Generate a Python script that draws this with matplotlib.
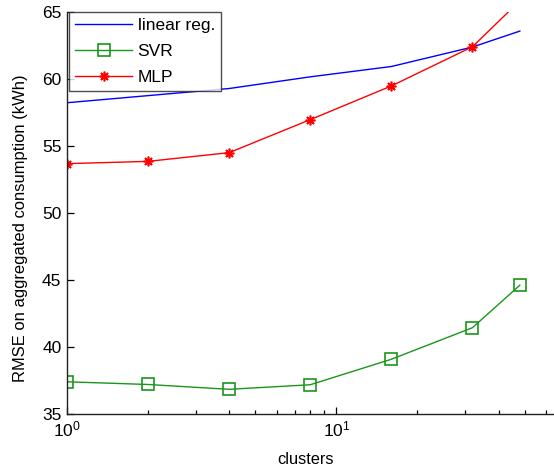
import matplotlib
matplotlib.use("Agg")
import matplotlib.pyplot as plt
from matplotlib.ticker import LogLocator, MultipleLocator

plt.rcParams['font.family'] = ['Liberation Sans', 'DejaVu Sans']

clusters = [1, 2, 4, 8, 16, 32, 48]
linear_reg = [58.2, 58.73, 59.26, 60.13, 60.9, 62.35, 63.54]
svr = [37.4, 37.2, 36.84, 37.18, 39.08, 41.43, 44.6]
mlp = [53.66, 53.83, 54.48, 56.94, 59.45, 62.37, 65.8]

labels = ['linear reg.', 'SVR', 'MLP']
xlabel = 'clusters'
ylabel = 'RMSE on aggregated consumption (kWh)'

fig = plt.figure(figsize=(5.54, 4.70), dpi=100)
ax = fig.add_axes([67/554, 56/470, (553.5-67)/554, (414-11.5)/470])

ax.plot(clusters, linear_reg, color='#0000ff', lw=1.0, label=labels[0])
ax.plot(clusters, svr, color='#1a961a', lw=1.0, marker='s', ms=8,
        mfc='none', mec='#1a961a', mew=1.2, label=labels[1])
ax.plot(clusters, mlp, color='#ff0000', lw=1.0, marker=(8, 2, 0), ms=7,
        mew=1.2, label=labels[2])

ax.set_xscale('log')
ax.set_xlim(1, 64)
ax.set_ylim(35, 65)
ax.yaxis.set_major_locator(MultipleLocator(5))
ax.xaxis.set_major_locator(LogLocator(base=10))
ax.xaxis.set_minor_locator(LogLocator(base=10, subs=range(2, 10)))

for s in ['top', 'right']:
    ax.spines[s].set_visible(False)
for s in ['left', 'bottom']:
    ax.spines[s].set_linewidth(1.0)
    ax.spines[s].set_color('#222222')

ax.tick_params(axis='both', which='major', direction='in', length=5,
               labelsize=12.5, width=0.9, pad=4)
ax.tick_params(axis='both', which='minor', direction='in', length=3, width=0.9)
ax.tick_params(axis='y', which='minor', left=False)

ax.set_xlabel(xlabel, fontsize=11.8)
ax.set_ylabel(ylabel, fontsize=11.9)
ax.xaxis.set_label_coords(0.49, -0.095)
ax.yaxis.set_label_coords(-0.080, 0.462)

leg = ax.legend(loc='upper left', bbox_to_anchor=(0.004, 1.0), fontsize=12.5,
                frameon=True, fancybox=False, shadow=False, handlelength=3.3,
                labelspacing=0.64, borderpad=0.35, handletextpad=0.3,
                borderaxespad=0.0)
leg.get_frame().set_edgecolor('#222222')
leg.get_frame().set_linewidth(1.0)

fig.savefig('out.png', dpi=100)
